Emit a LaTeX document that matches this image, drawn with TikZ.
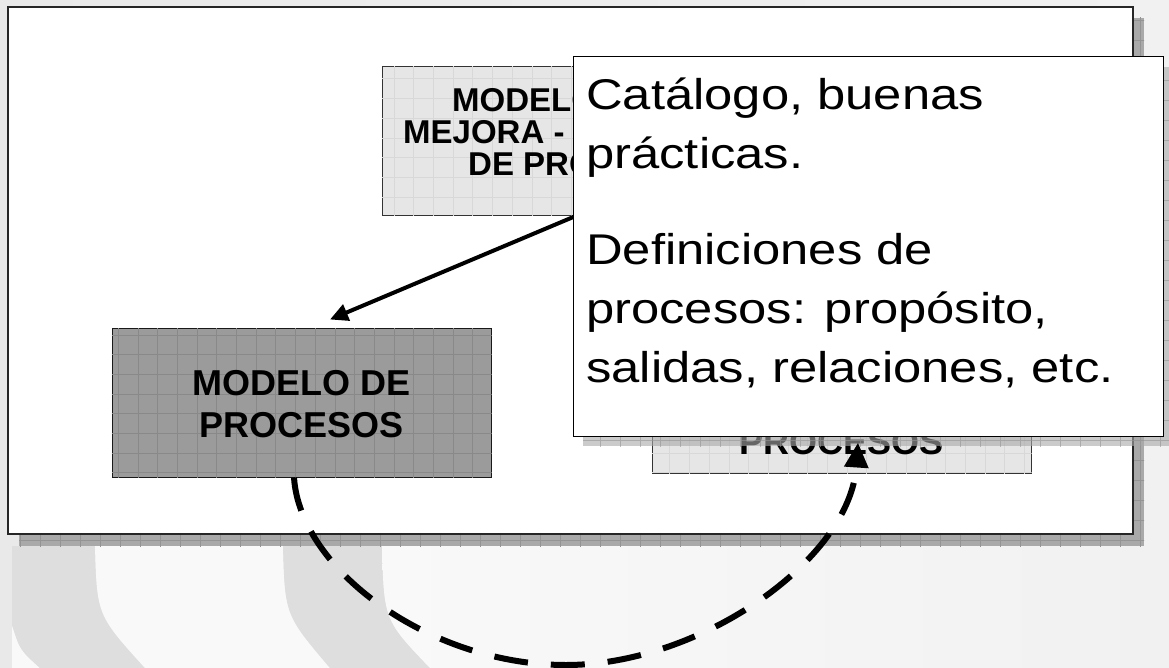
\documentclass[tikz,border=0pt]{standalone}
\usepackage{fontspec}
\setmainfont{Liberation Sans}
\newfontfamily\calfont[FakeStretch=1.18]{Liberation Sans}
\usetikzlibrary{arrows.meta}
\definecolor{shadowgrey}{HTML}{A9A9A9}
\definecolor{shadowline}{HTML}{949494}
\definecolor{lightfill}{HTML}{E6E6E6}
\definecolor{lightline}{HTML}{D8D8D8}
\definecolor{darkfill}{HTML}{9B9B9B}
\definecolor{darkline}{HTML}{898989}
\definecolor{bgleft}{HTML}{E9E9E9}
\definecolor{bgright}{HTML}{F1F1F1}
\definecolor{bgwhite}{HTML}{F9F9F9}
\definecolor{bgband}{HTML}{DEDEDE}
\newcommand\boxgrid[3]{%
  \begin{scope}
    \clip (#1.south west) rectangle (#1.north east);
    \draw[draw=#2, line width=0.7pt, step=#3] (#1.south west) grid (#1.north east);
  \end{scope}}
\begin{document}
\begin{tikzpicture}[x=1pt,y=-1pt,
  frame/.style={draw=black!85, line width=1.2pt, fill=white, inner sep=0pt},
  lightbox/.style={draw=black!80, line width=1pt, fill=lightfill, inner sep=0pt, minimum width=379pt, minimum height=149pt},
  darkbox/.style={draw=black!90, line width=1pt, fill=darkfill, inner sep=0pt, minimum width=379pt, minimum height=149pt},
  callout/.style={draw=black, line width=1pt, fill=white, inner sep=0pt},
  txt/.style={inner sep=0pt, text=black},
  arrowline/.style={line width=4pt, -{Triangle[length=18pt,width=17pt]}},
  dasharrow/.style={line width=6pt, dash pattern=on 34pt off 23pt, -{Triangle[length=25pt,width=23pt]}}
]
\useasboundingbox (0,0) rectangle (1169,668);
% background
\shade[left color=bgleft, right color=bgright] (0,0) rectangle (1169,668);
\fill[bgwhite] (12,625) .. controls (20,650) .. (40,668) -- (12,668) -- cycle;
\fill[bgband] (12,546) -- (95,546) .. controls (97,615) .. (145,668) -- (40,668) .. controls (20,650) .. (12,625) -- cycle;
\fill[bgwhite] (95,546) .. controls (97,615) .. (145,668) -- (330,668) .. controls (285,615) .. (283,546) -- cycle;
\fill[bgband] (283,546) .. controls (285,615) .. (330,668) -- (430,668) .. controls (384,620) .. (382,546) -- cycle;
\shade[left color=bgwhite, right color=bgright] (382,546) .. controls (384,620) .. (430,668) -- (1169,668) -- (1169,546) -- cycle;
% outer frame shadow
\fill[shadowgrey] (19,18) rectangle (1144,546);
\begin{scope}
  \clip (19,18) rectangle (1144,546);
  \draw[draw=shadowline, line width=0.7pt, step=20pt] (0,560) grid (1160,0);
\end{scope}
% outer frame
\node[frame, minimum width=1125pt, minimum height=527pt] (frame) at (570.5,270.5) {};
% top box
\node[lightbox] (mejora) at (571.5,141.5) {};
\boxgrid{mejora}{lightline}{19.7pt}
\node[txt, anchor=base west] (mejoratxt) at (403,112) {\parbox[t]{420pt}{\fontsize{33}{32}\selectfont\bfseries \hspace*{49pt}MODELO DE\\MEJORA - EVALUACIÓN\\\hspace*{65pt}DE PROCESOS}};
% left box
\node[darkbox] (modelo) at (301.5,402.5) {};
\boxgrid{modelo}{darkline}{19.7pt}
\node[txt, anchor=base] (modelotxt) at (301.5,395) {\parbox[t]{370pt}{\centering\fontsize{36}{42}\selectfont\bfseries MODELO DE\\PROCESOS}};
% right box
\node[lightbox] (eval) at (841.5,398.5) {};
\boxgrid{eval}{lightline}{19.7pt}
\node[txt, anchor=base, font=\fontsize{36}{42}\selectfont\bfseries] (evaltxt) at (841.5,454) {PROCESOS};
% arrow top -> left
\draw[arrowline] ([xshift=193pt]mejora.south west) -- ([xshift=28.5pt,yshift=8pt]modelo.north);
% callout shadow
\begin{scope}[opacity=0.6]
  \fill[shadowgrey] (583,67) rectangle (1173,446);
  \begin{scope}
    \clip (583,67) rectangle (1173,446);
    \draw[draw=shadowline, line width=0.7pt, step=20pt] (560,460) grid (1180,60);
  \end{scope}
\end{scope}
% callout
\node[callout, minimum width=590pt, minimum height=379pt] (cat) at (868,246.5) {};
\node[txt, anchor=base west] (cattxt) at (586,110) {\parbox[t]{570pt}{\calfont\fontsize{43}{59}\selectfont Catálogo, buenas\\prácticas.\\[37pt]Definiciones de\\procesos: propósito,\\salidas, relaciones, etc.}};
% dashed cycle arrow
\draw[dasharrow] ([xshift=-7.5pt]modelo.south) .. controls (300,570) and (430,665) .. (566,665) .. controls (700,665) and (850,560) .. ([xshift=16.5pt,yshift=31pt]eval.south);
\end{tikzpicture}
\end{document}
